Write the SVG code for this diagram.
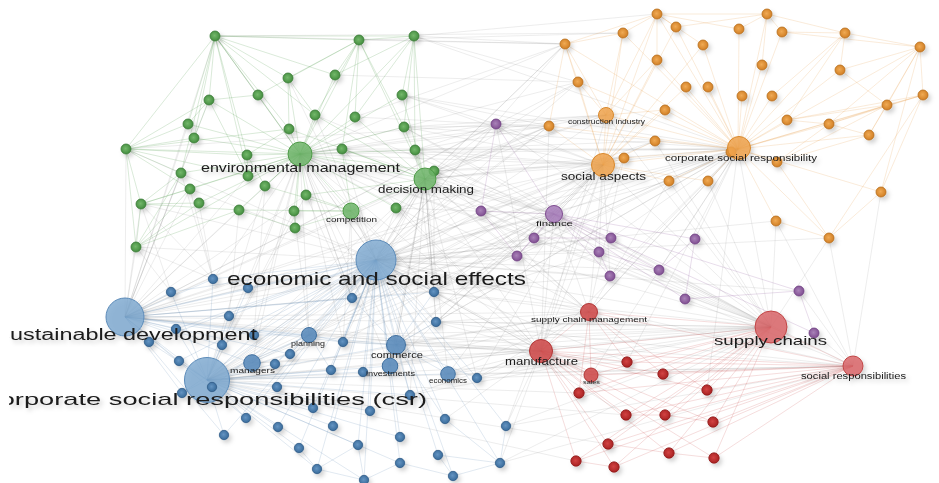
<svg xmlns="http://www.w3.org/2000/svg" width="939" height="483" viewBox="0 0 939 483">
<defs>
<style>
.e{fill:none;stroke-width:.7}
.eg{stroke:#7a7a7a;stroke-opacity:.2}
.eG{stroke:#4e9a48;stroke-opacity:.3}
.eO{stroke:#e08a2a;stroke-opacity:.25}
.eP{stroke:#8e5a9f;stroke-opacity:.3}
.eB{stroke:#4f7fb0;stroke-opacity:.25}
.eR{stroke:#c43a3a;stroke-opacity:.25}
.n{filter:url(#sh)}
.G{fill:url(#gG);stroke:#3a7a36;stroke-width:.8}
.O{fill:url(#gO);stroke:#b86d1c;stroke-width:.8}
.P{fill:url(#gP);stroke:#6d3d80;stroke-width:.8}
.B{fill:url(#gB);stroke:#2f5b86;stroke-width:.8}
.R{fill:url(#gR);stroke:#8f1a1a;stroke-width:.8}
.GB{fill:#6fb56a;fill-opacity:.85;stroke:#4e9a48;stroke-width:1}
.OB{fill:#eea24c;fill-opacity:.85;stroke:#d8882c;stroke-width:1}
.PB{fill:#a67bb8;fill-opacity:.85;stroke:#7d4a8f;stroke-width:1}
.BB{fill:#7ea8cf;fill-opacity:.82;stroke:#5b8ab8;stroke-width:1}
.BM{fill:#5d8dbd;fill-opacity:.9;stroke:#3f6f9f;stroke-width:1}
.RB{fill:#d9666a;fill-opacity:.85;stroke:#c04545;stroke-width:1}
.RM{fill:#cf4f4f;fill-opacity:.9;stroke:#b03535;stroke-width:1}
text{font-family:"Liberation Sans",Arial,sans-serif;fill:#1a1a1a}
</style>
<filter id="sh" x="-50%" y="-50%" width="200%" height="200%">
<feDropShadow dx="2.5" dy="3" stdDeviation="2.2" flood-color="#000" flood-opacity=".18"/>
</filter>
<radialGradient id="gG" cx=".45" cy=".45" r=".6"><stop offset="0" stop-color="#74b86b"/><stop offset="1" stop-color="#3f8a3b"/></radialGradient>
<radialGradient id="gO" cx=".45" cy=".45" r=".6"><stop offset="0" stop-color="#f0aa55"/><stop offset="1" stop-color="#cf7c20"/></radialGradient>
<radialGradient id="gP" cx=".45" cy=".45" r=".6"><stop offset="0" stop-color="#a982b8"/><stop offset="1" stop-color="#7d4a8f"/></radialGradient>
<radialGradient id="gB" cx=".45" cy=".45" r=".6"><stop offset="0" stop-color="#6494c2"/><stop offset="1" stop-color="#356797"/></radialGradient>
<radialGradient id="gR" cx=".45" cy=".45" r=".6"><stop offset="0" stop-color="#d24242"/><stop offset="1" stop-color="#a51f1f"/></radialGradient>
<clipPath id="cut"><rect x="9" y="0" width="930" height="483"/></clipPath>
</defs>
<rect width="939" height="483" fill="#fff"/>
<g id="connectors">
<path class="e eg" d="M376 260L215 36M376 260L288 78M376 260L300 154M376 260L425 179M376 260L315 115M376 260L342 149M376 260L434 171M376 260L565 44M376 260L578 82M376 260L549 126M376 260L603 165M376 260L738 149M376 260L655 141M376 260L669 181M376 260L496 124M376 260L481 211M376 260L554 214M376 260L534 238M376 260L611 238M376 260L517 256M376 260L599 252M376 260L610 276M376 260L659 270M376 260L799 291M376 260L589 312M376 260L541 351M376 260L771 327M376 260L853 366M376 260L627 362M376 260L591 375M376 260L626 415M376 260L136 247M376 260L141 204M376 260L126 149M376 260L190 189M376 260L351 211M376 260L396 208M376 260L829 238M376 260L776 221
M125 317L215 36M125 317L209 100M125 317L188 124M125 317L194 138M125 317L126 149M125 317L181 173M125 317L190 189M125 317L141 204M125 317L136 247M125 317L300 154M125 317L425 179M125 317L239 210M125 317L603 165M125 317L738 149M125 317L549 126M125 317L496 124M125 317L554 214M125 317L517 256M125 317L589 312M125 317L541 351M125 317L771 327M125 317L853 366M125 317L578 82M125 317L534 238M125 317L627 362M125 317L610 276M125 317L248 176M125 317L306 195M125 317L655 141
M207 380L300 154M207 380L425 179M207 380L306 195M207 380L294 211M207 380L603 165M207 380L738 149M207 380L549 126M207 380L554 214M207 380L481 211M207 380L517 256M207 380L589 312M207 380L541 351M207 380L771 327M207 380L853 366M207 380L579 393M207 380L626 415M207 380L576 461M207 380L606 115M207 380L599 252M207 380L608 444M207 380L627 362M207 380L265 186
M771 327L300 154M771 327L425 179M771 327L404 127M771 327L415 150M771 327L603 165M771 327L738 149M771 327L606 115M771 327L655 141M771 327L669 181M771 327L708 181M771 327L776 221M771 327L829 238M771 327L554 214M771 327L534 238M771 327L611 238M771 327L517 256M771 327L496 124M771 327L434 292M771 327L436 322M771 327L477 378M771 327L506 426M771 327L396 345M771 327L448 374M771 327L252 363M771 327L309 335M771 327L343 342M771 327L481 211M771 327L434 171M771 327L500 463M771 327L410 395M771 327L390 366
M541 351L300 154M541 351L425 179M541 351L603 165M541 351L738 149M541 351L496 124M541 351L554 214M541 351L396 345M541 351L434 292M541 351L436 322M541 351L448 374M541 351L477 378M541 351L506 426M541 351L500 463M541 351L445 419M541 351L410 395M541 351L396 208M541 351L549 126M541 351L606 115M541 351L624 158M541 351L309 335M541 351L252 363M541 351L343 342M541 351L342 149
M589 312L425 179M589 312L603 165M589 312L738 149M589 312L554 214M589 312L481 211M589 312L436 322M589 312L396 345M589 312L448 374M589 312L300 154M589 312L434 292M589 312L434 171M589 312L624 158M589 312L669 181M589 312L390 366M589 312L477 378
M300 154L603 165M300 154L738 149M300 154L606 115M300 154L549 126M300 154L578 82M300 154L565 44M300 154L496 124M300 154L554 214M300 154L481 211M300 154L534 238M300 154L434 292M300 154L352 298M300 154L436 322M300 154L396 345M300 154L309 335M300 154L252 363M300 154L254 335M300 154L213 279M300 154L517 256M300 154L655 141M300 154L343 342M300 154L390 366
M425 179L603 165M425 179L738 149M425 179L606 115M425 179L549 126M425 179L496 124M425 179L554 214M425 179L534 238M425 179L517 256M425 179L434 292M425 179L352 298M425 179L436 322M425 179L396 345M425 179L448 374M425 179L390 366M425 179L309 335M425 179L410 395M425 179L578 82M425 179L565 44M425 179L624 158M425 179L599 252M425 179L343 342M425 179L252 363M425 179L477 378
M603 165L496 124M603 165L481 211M603 165L554 214M603 165L534 238M603 165L517 256M603 165L599 252M603 165L610 276M603 165L434 292M603 165L436 322M603 165L396 345M603 165L448 374M603 165L477 378M603 165L506 426M603 165L434 171M603 165L404 127M603 165L415 150M603 165L402 95M603 165L342 149M603 165L396 208M603 165L390 366M603 165L309 335M603 165L352 298
M738 149L496 124M738 149L554 214M738 149L534 238M738 149L611 238M738 149L695 239M738 149L610 276M738 149L659 270M738 149L402 95M738 149L404 127M738 149L415 150M738 149L414 36M738 149L434 292M738 149L396 345M738 149L627 362M738 149L591 375M738 149L707 390M738 149L481 211M738 149L517 256M738 149L436 322M738 149L434 171M738 149L589 312M738 149L342 149
M554 214L315 115M554 214L404 127M554 214L342 149M554 214L434 171M554 214L434 292M554 214L352 298M554 214L436 322M554 214L396 345M554 214L343 342M554 214L309 335M554 214L396 208
M215 36L565 44M215 36L623 33M414 36L565 44M414 36L578 82M359 40L623 33M402 95L549 126M402 95L496 124M496 124L549 126M496 124L606 115M565 44L434 171M126 149L496 124M414 36L657 14M359 40L565 44M404 127L549 126M415 150L496 124M335 75L578 82M355 117L565 44M355 117L496 124M404 127L606 115M415 150L606 115M434 171L606 115M434 171L549 126
M853 366L506 426M853 366L477 378M853 366L799 291M853 366L814 333M853 366L829 238M853 366L776 221M853 366L881 192M853 366L500 463M853 366L436 322M853 366L448 374M853 366L685 299M853 366L659 270
M213 279L136 247M171 292L136 247M213 279L141 204M171 292L141 204M248 288L300 154M352 298L300 154M434 292L434 171M434 292L415 150M213 279L181 173M213 279L190 189M213 279L199 203M352 298L306 195M352 298L351 211M434 292L351 211M229 316L239 210M254 335L265 186M309 335L294 211M436 322L425 179M396 345L425 179M343 342L351 211"/>
<path class="e eG" d="M300 154L215 36M300 154L359 40M300 154L414 36M300 154L335 75M300 154L288 78M300 154L258 95M300 154L209 100M300 154L402 95M300 154L315 115M300 154L355 117M300 154L188 124M300 154L404 127M300 154L289 129M300 154L194 138M300 154L126 149M300 154L342 149M300 154L415 150M300 154L247 155M300 154L181 173M300 154L248 176M300 154L434 171M300 154L425 179M300 154L265 186M300 154L190 189M300 154L306 195M300 154L199 203M300 154L141 204M300 154L396 208M300 154L239 210M300 154L294 211M300 154L351 211M300 154L295 228M300 154L136 247
M215 36L288 78M215 36L258 95M215 36L209 100M215 36L188 124M215 36L194 138M215 36L126 149M215 36L289 129M215 36L359 40M215 36L414 36M215 36L247 155M215 36L248 176M215 36L335 75M215 36L315 115M215 36L181 173
M359 40L335 75M359 40L315 115M359 40L355 117M359 40L342 149M359 40L414 36M359 40L404 127M359 40L288 78M359 40L258 95
M414 36L402 95M414 36L404 127M414 36L355 117M414 36L415 150M414 36L335 75
M126 149L188 124M126 149L194 138M126 149L181 173M126 149L190 189M126 149L141 204M126 149L136 247M126 149L247 155M126 149L248 176M126 149L209 100M126 149L289 129
M141 204L199 203M141 204L190 189M141 204L239 210M141 204L136 247M141 204L181 173
M425 179L359 40M425 179L414 36M425 179L402 95M425 179L355 117M425 179L404 127M425 179L342 149M425 179L415 150M425 179L434 171M425 179L396 208M425 179L306 195M425 179L351 211M425 179L315 115M425 179L289 129
M351 211L265 186M351 211L306 195M351 211L294 211M351 211L295 228M351 211L342 149M351 211L239 210
M136 247L181 173M136 247L190 189M136 247L199 203M136 247L239 210M209 100L188 124M209 100L194 138M209 100L248 176M209 100L258 95M247 155L248 176M247 155L265 186M247 155L289 129M295 228L294 211M295 228L239 210M288 78L289 129M288 78L315 115"/>
<path class="e eO" d="M738 149L657 14M738 149L767 14M738 149L623 33M738 149L676 27M738 149L739 29M738 149L782 32M738 149L845 33M738 149L565 44M738 149L703 45M738 149L920 47M738 149L657 60M738 149L762 65M738 149L840 70M738 149L578 82M738 149L686 87M738 149L708 87M738 149L742 96M738 149L772 96M738 149L923 95M738 149L887 105M738 149L665 110M738 149L606 115M738 149L787 120M738 149L829 124M738 149L549 126M738 149L869 135M738 149L655 141M738 149L624 158M738 149L603 165M738 149L777 162M738 149L669 181M738 149L708 181M738 149L881 192M738 149L776 221M738 149L829 238
M603 165L565 44M603 165L578 82M603 165L606 115M603 165L549 126M603 165L655 141M603 165L624 158M603 165L669 181M603 165L708 181M603 165L665 110M603 165L686 87M603 165L657 60M603 165L623 33M603 165L676 27M603 165L657 14M603 165L703 45
M606 115L623 33M606 115L657 14M606 115L657 60M606 115L578 82M606 115L665 110M606 115L565 44
M920 47L845 33M920 47L840 70M920 47L923 95M920 47L887 105M920 47L829 124M920 47L869 135M920 47L881 192M920 47L782 32
M923 95L887 105M923 95L829 124M923 95L829 238M923 95L881 192M923 95L787 120M887 105L787 120M887 105L869 135M887 105L829 124M887 105L840 70
M767 14L782 32M767 14L845 33M767 14L739 29M767 14L657 14M767 14L762 65M767 14L676 27M657 14L676 27M657 14L623 33M657 14L739 29M657 14L703 45M657 14L657 60
M845 33L840 70M845 33L772 96M845 33L782 32M845 33L787 120M829 238L881 192M829 238L776 221M829 238L777 162M565 44L578 82M565 44L623 33M565 44L549 126M565 44L657 14M829 124L787 120M829 124L869 135M829 124L777 162M777 162L887 105M777 162L869 135"/>
<path class="e eP" d="M554 214L496 124M554 214L481 211M554 214L534 238M554 214L611 238M554 214L695 239M554 214L517 256M554 214L599 252M554 214L659 270M554 214L610 276M554 214L799 291M554 214L685 299M554 214L814 333M534 238L611 238M534 238L517 256M599 252L610 276M599 252L659 270M799 291L814 333M799 291L685 299M695 239L659 270M695 239L685 299M481 211L517 256M496 124L481 211"/>
<path class="e eB" d="M376 260L213 279M376 260L248 288M376 260L171 292M376 260L434 292M376 260L352 298M376 260L229 316M376 260L436 322M376 260L176 329M376 260L254 335M376 260L149 342M376 260L343 342M376 260L222 345M376 260L290 354M376 260L179 361M376 260L275 364M376 260L331 370M376 260L363 372M376 260L477 378M376 260L212 387M376 260L277 387M376 260L182 393M376 260L410 395M376 260L313 408M376 260L370 411M376 260L246 418M376 260L445 419M376 260L506 426M376 260L333 426M376 260L278 427M376 260L224 435M376 260L400 437M376 260L358 445M376 260L299 448M376 260L438 455M376 260L400 463M376 260L500 463M376 260L317 469M376 260L453 476M376 260L364 480M376 260L125 317M376 260L207 380M376 260L309 335M376 260L396 345M376 260L252 363M376 260L390 366M376 260L448 374
M125 317L213 279M125 317L248 288M125 317L171 292M125 317L229 316M125 317L176 329M125 317L254 335M125 317L149 342M125 317L222 345M125 317L179 361M125 317L182 393M125 317L207 380M125 317L252 363M125 317L309 335M125 317L290 354M125 317L246 418M125 317L224 435M125 317L352 298M125 317L434 292M125 317L396 345M125 317L343 342
M207 380L213 279M207 380L248 288M207 380L171 292M207 380L229 316M207 380L176 329M207 380L254 335M207 380L149 342M207 380L222 345M207 380L179 361M207 380L277 387M207 380L182 393M207 380L313 408M207 380L246 418M207 380L333 426M207 380L278 427M207 380L224 435M207 380L299 448M207 380L317 469M207 380L364 480M207 380L252 363M207 380L309 335M207 380L396 345M207 380L390 366M207 380L448 374M207 380L410 395M207 380L370 411M207 380L400 437M207 380L358 445M207 380L400 463M207 380L275 364M207 380L290 354M207 380L331 370M207 380L363 372
M396 345L436 322M396 345L434 292M396 345L390 366M396 345L448 374M396 345L343 342M396 345L410 395M396 345L445 419M396 345L352 298M396 345L477 378M309 335L290 354M309 335L343 342M309 335L252 363M309 335L254 335M309 335L275 364M309 335L331 370
M317 469L299 448M317 469L364 480M317 469L358 445M453 476L438 455M453 476L500 463M453 476L400 463M500 463L506 426M500 463L438 455M500 463L445 419M364 480L400 463M364 480L358 445"/>
<path class="e eR" d="M771 327L589 312M771 327L541 351M771 327L853 366M771 327L627 362M771 327L663 374M771 327L591 375M771 327L579 393M771 327L707 390M771 327L626 415M771 327L665 415M771 327L713 422M771 327L608 444M771 327L669 453M771 327L714 458M771 327L576 461M771 327L614 467
M541 351L589 312M541 351L627 362M541 351L663 374M541 351L591 375M541 351L579 393M541 351L707 390M541 351L626 415M541 351L665 415M541 351L713 422M541 351L608 444M541 351L669 453M541 351L714 458M541 351L576 461M541 351L614 467M541 351L853 366
M853 366L589 312M853 366L627 362M853 366L663 374M853 366L591 375M853 366L579 393M853 366L707 390M853 366L626 415M853 366L665 415M853 366L713 422M853 366L608 444M853 366L669 453M853 366L714 458M853 366L576 461M853 366L614 467
M589 312L627 362M589 312L663 374M589 312L591 375M589 312L579 393M589 312L707 390M576 461L614 467M608 444L669 453M669 453L714 458M626 415L665 415M665 415L713 422"/>
</g>
<g id="nodes" class="n">
<g id="g1"><circle class="G" cx="215" cy="36" r="5"/></g>
<g id="g2"><circle class="G" cx="359" cy="40" r="5"/></g>
<g id="g3"><circle class="G" cx="414" cy="36" r="5"/></g>
<g id="g4"><circle class="G" cx="335" cy="75" r="5"/></g>
<g id="g5"><circle class="G" cx="288" cy="78" r="5"/></g>
<g id="g6"><circle class="G" cx="258" cy="95" r="5"/></g>
<g id="g7"><circle class="G" cx="209" cy="100" r="5"/></g>
<g id="g8"><circle class="G" cx="402" cy="95" r="5"/></g>
<g id="g9"><circle class="G" cx="315" cy="115" r="5"/></g>
<g id="g10"><circle class="G" cx="355" cy="117" r="5"/></g>
<g id="g11"><circle class="G" cx="188" cy="124" r="5"/></g>
<g id="g12"><circle class="G" cx="404" cy="127" r="5"/></g>
<g id="g13"><circle class="G" cx="289" cy="129" r="5"/></g>
<g id="g14"><circle class="G" cx="194" cy="138" r="5"/></g>
<g id="g15"><circle class="G" cx="126" cy="149" r="5"/></g>
<g id="g16"><circle class="G" cx="342" cy="149" r="5"/></g>
<g id="g17"><circle class="G" cx="415" cy="150" r="5"/></g>
<g id="g18"><circle class="G" cx="247" cy="155" r="5"/></g>
<g id="g19"><circle class="G" cx="181" cy="173" r="5"/></g>
<g id="g20"><circle class="G" cx="248" cy="176" r="5"/></g>
<g id="g21"><circle class="G" cx="434" cy="171" r="5"/></g>
<g id="g22"><circle class="G" cx="265" cy="186" r="5"/></g>
<g id="g23"><circle class="G" cx="190" cy="189" r="5"/></g>
<g id="g24"><circle class="G" cx="306" cy="195" r="5"/></g>
<g id="g25"><circle class="G" cx="199" cy="203" r="5"/></g>
<g id="g26"><circle class="G" cx="141" cy="204" r="5"/></g>
<g id="g27"><circle class="G" cx="396" cy="208" r="5"/></g>
<g id="g28"><circle class="G" cx="239" cy="210" r="5"/></g>
<g id="g29"><circle class="G" cx="294" cy="211" r="5"/></g>
<g id="g30"><circle class="G" cx="295" cy="228" r="5"/></g>
<g id="g31"><circle class="G" cx="136" cy="247" r="5"/></g>
<g id="o1"><circle class="O" cx="657" cy="14" r="5"/></g>
<g id="o2"><circle class="O" cx="767" cy="14" r="5"/></g>
<g id="o3"><circle class="O" cx="623" cy="33" r="5"/></g>
<g id="o4"><circle class="O" cx="676" cy="27" r="5"/></g>
<g id="o5"><circle class="O" cx="739" cy="29" r="5"/></g>
<g id="o6"><circle class="O" cx="782" cy="32" r="5"/></g>
<g id="o7"><circle class="O" cx="845" cy="33" r="5"/></g>
<g id="o8"><circle class="O" cx="565" cy="44" r="5"/></g>
<g id="o9"><circle class="O" cx="703" cy="45" r="5"/></g>
<g id="o10"><circle class="O" cx="920" cy="47" r="5"/></g>
<g id="o11"><circle class="O" cx="657" cy="60" r="5"/></g>
<g id="o12"><circle class="O" cx="762" cy="65" r="5"/></g>
<g id="o13"><circle class="O" cx="840" cy="70" r="5"/></g>
<g id="o14"><circle class="O" cx="578" cy="82" r="5"/></g>
<g id="o15"><circle class="O" cx="686" cy="87" r="5"/></g>
<g id="o16"><circle class="O" cx="708" cy="87" r="5"/></g>
<g id="o17"><circle class="O" cx="742" cy="96" r="5"/></g>
<g id="o18"><circle class="O" cx="772" cy="96" r="5"/></g>
<g id="o19"><circle class="O" cx="923" cy="95" r="5"/></g>
<g id="o20"><circle class="O" cx="887" cy="105" r="5"/></g>
<g id="o21"><circle class="O" cx="665" cy="110" r="5"/></g>
<g id="o22"><circle class="O" cx="787" cy="120" r="5"/></g>
<g id="o23"><circle class="O" cx="829" cy="124" r="5"/></g>
<g id="o24"><circle class="O" cx="549" cy="126" r="5"/></g>
<g id="o25"><circle class="O" cx="869" cy="135" r="5"/></g>
<g id="o26"><circle class="O" cx="655" cy="141" r="5"/></g>
<g id="o27"><circle class="O" cx="731" cy="152" r="5"/></g>
<g id="o28"><circle class="O" cx="624" cy="158" r="5"/></g>
<g id="o29"><circle class="O" cx="777" cy="162" r="5"/></g>
<g id="o30"><circle class="O" cx="669" cy="181" r="5"/></g>
<g id="o31"><circle class="O" cx="708" cy="181" r="5"/></g>
<g id="o32"><circle class="O" cx="881" cy="192" r="5"/></g>
<g id="o33"><circle class="O" cx="776" cy="221" r="5"/></g>
<g id="o34"><circle class="O" cx="829" cy="238" r="5"/></g>
<g id="p1"><circle class="P" cx="496" cy="124" r="5"/></g>
<g id="p2"><circle class="P" cx="481" cy="211" r="5"/></g>
<g id="p3"><circle class="P" cx="534" cy="238" r="5"/></g>
<g id="p4"><circle class="P" cx="611" cy="238" r="5"/></g>
<g id="p5"><circle class="P" cx="695" cy="239" r="5"/></g>
<g id="p6"><circle class="P" cx="517" cy="256" r="5"/></g>
<g id="p7"><circle class="P" cx="599" cy="252" r="5"/></g>
<g id="p8"><circle class="P" cx="659" cy="270" r="5"/></g>
<g id="p9"><circle class="P" cx="610" cy="276" r="5"/></g>
<g id="p10"><circle class="P" cx="799" cy="291" r="5"/></g>
<g id="p11"><circle class="P" cx="685" cy="299" r="5"/></g>
<g id="p12"><circle class="P" cx="814" cy="333" r="5"/></g>
<g id="b1"><circle class="B" cx="213" cy="279" r="4.7"/></g>
<g id="b2"><circle class="B" cx="248" cy="288" r="4.7"/></g>
<g id="b3"><circle class="B" cx="171" cy="292" r="4.7"/></g>
<g id="b4"><circle class="B" cx="434" cy="292" r="4.7"/></g>
<g id="b5"><circle class="B" cx="352" cy="298" r="4.7"/></g>
<g id="b6"><circle class="B" cx="229" cy="316" r="4.7"/></g>
<g id="b7"><circle class="B" cx="436" cy="322" r="4.7"/></g>
<g id="b8"><circle class="B" cx="176" cy="329" r="4.7"/></g>
<g id="b9"><circle class="B" cx="254" cy="335" r="4.7"/></g>
<g id="b10"><circle class="B" cx="149" cy="342" r="4.7"/></g>
<g id="b11"><circle class="B" cx="343" cy="342" r="4.7"/></g>
<g id="b12"><circle class="B" cx="222" cy="345" r="4.7"/></g>
<g id="b13"><circle class="B" cx="290" cy="354" r="4.7"/></g>
<g id="b14"><circle class="B" cx="179" cy="361" r="4.7"/></g>
<g id="b15"><circle class="B" cx="275" cy="364" r="4.7"/></g>
<g id="b16"><circle class="B" cx="331" cy="370" r="4.7"/></g>
<g id="b17"><circle class="B" cx="363" cy="372" r="4.7"/></g>
<g id="b18"><circle class="B" cx="477" cy="378" r="4.7"/></g>
<g id="b20"><circle class="B" cx="277" cy="387" r="4.7"/></g>
<g id="b21"><circle class="B" cx="182" cy="393" r="4.7"/></g>
<g id="b22"><circle class="B" cx="410" cy="395" r="4.7"/></g>
<g id="b23"><circle class="B" cx="313" cy="408" r="4.7"/></g>
<g id="b24"><circle class="B" cx="370" cy="411" r="4.7"/></g>
<g id="b25"><circle class="B" cx="246" cy="418" r="4.7"/></g>
<g id="b26"><circle class="B" cx="445" cy="419" r="4.7"/></g>
<g id="b27"><circle class="B" cx="506" cy="426" r="4.7"/></g>
<g id="b28"><circle class="B" cx="333" cy="426" r="4.7"/></g>
<g id="b29"><circle class="B" cx="278" cy="427" r="4.7"/></g>
<g id="b30"><circle class="B" cx="224" cy="435" r="4.7"/></g>
<g id="b31"><circle class="B" cx="400" cy="437" r="4.7"/></g>
<g id="b32"><circle class="B" cx="358" cy="445" r="4.7"/></g>
<g id="b33"><circle class="B" cx="299" cy="448" r="4.7"/></g>
<g id="b34"><circle class="B" cx="438" cy="455" r="4.7"/></g>
<g id="b35"><circle class="B" cx="400" cy="463" r="4.7"/></g>
<g id="b36"><circle class="B" cx="500" cy="463" r="4.7"/></g>
<g id="b37"><circle class="B" cx="317" cy="469" r="4.7"/></g>
<g id="b39"><circle class="B" cx="453" cy="476" r="4.7"/></g>
<g id="b40"><circle class="B" cx="364" cy="480" r="4.7"/></g>
<g id="r1"><circle class="R" cx="627" cy="362" r="5.2"/></g>
<g id="r2"><circle class="R" cx="663" cy="374" r="5.2"/></g>
<g id="r3"><circle class="R" cx="579" cy="393" r="5.2"/></g>
<g id="r4"><circle class="R" cx="707" cy="390" r="5.2"/></g>
<g id="r5"><circle class="R" cx="626" cy="415" r="5.2"/></g>
<g id="r6"><circle class="R" cx="665" cy="415" r="5.2"/></g>
<g id="r7"><circle class="R" cx="713" cy="422" r="5.2"/></g>
<g id="r8"><circle class="R" cx="608" cy="444" r="5.2"/></g>
<g id="r9"><circle class="R" cx="669" cy="453" r="5.2"/></g>
<g id="r10"><circle class="R" cx="714" cy="458" r="5.2"/></g>
<g id="r11"><circle class="R" cx="576" cy="461" r="5.2"/></g>
<g id="r12"><circle class="R" cx="614" cy="467" r="5.2"/></g>
<g id="environmental-management"><circle class="GB" cx="300" cy="154" r="12"/><text x="201" y="172" font-size="13" textLength="199" lengthAdjust="spacingAndGlyphs">environmental management</text></g>
<g id="decision-making"><circle class="GB" cx="425" cy="179" r="11"/><text x="378" y="192.5" font-size="11" textLength="96" lengthAdjust="spacingAndGlyphs">decision making</text></g>
<g id="competition"><circle class="GB" cx="351" cy="211" r="8"/><text x="326" y="222" font-size="7.5" textLength="51" lengthAdjust="spacingAndGlyphs">competition</text></g>
<g id="finance"><circle class="PB" cx="554" cy="214" r="8.5"/><text x="536" y="225.5" font-size="8" textLength="37" lengthAdjust="spacingAndGlyphs">finance</text></g>
<g id="construction-industry"><circle class="OB" cx="606" cy="115" r="7.5"/><text x="568" y="124" font-size="6.5" textLength="77" lengthAdjust="spacingAndGlyphs">construction industry</text></g>
<g id="social-aspects"><circle class="OB" cx="603" cy="165" r="11.5"/><text x="561" y="180" font-size="11.5" textLength="85" lengthAdjust="spacingAndGlyphs">social aspects</text></g>
<g id="corporate-social-responsibility"><circle class="OB" cx="739" cy="148" r="11.5"/><text x="665" y="161" font-size="9" textLength="152" lengthAdjust="spacingAndGlyphs">corporate social responsibility</text></g>
<g id="planning"><circle class="BM" cx="309" cy="335" r="7.5"/><text x="291" y="345.5" font-size="6.5" textLength="34" lengthAdjust="spacingAndGlyphs">planning</text></g>
<g id="managers"><circle class="BM" cx="252" cy="363" r="8.3"/><text x="230" y="373" font-size="7" textLength="45" lengthAdjust="spacingAndGlyphs">managers</text></g>
<g id="commerce"><circle class="BM" cx="396" cy="345" r="9.5"/><text x="371" y="357.5" font-size="8.5" textLength="52" lengthAdjust="spacingAndGlyphs">commerce</text></g>
<g id="investments"><circle class="BM" cx="390" cy="366" r="7.8"/><text x="366" y="376" font-size="7" textLength="49" lengthAdjust="spacingAndGlyphs">investments</text></g>
<g id="economics"><circle class="BM" cx="448" cy="374" r="7.3"/><text x="429" y="382.5" font-size="6.5" textLength="38" lengthAdjust="spacingAndGlyphs">economics</text></g>
<g id="economic-and-social-effects"><circle class="BB" cx="376" cy="260" r="20"/><text x="227" y="284.5" font-size="19" textLength="299" lengthAdjust="spacingAndGlyphs">economic and social effects</text></g>
<g id="sustainable-development"><circle class="BB" cx="125" cy="317" r="19"/><text x="-1.7" y="339.5" font-size="16" textLength="258.7" lengthAdjust="spacingAndGlyphs" clip-path="url(#cut)">sustainable development</text></g>
<g id="csr"><circle class="BB" cx="207" cy="380" r="22.5"/><circle class="B" cx="212" cy="387" r="4.7"/><text x="-14" y="405" font-size="17" textLength="441" lengthAdjust="spacingAndGlyphs" clip-path="url(#cut)">corporate social responsibilities (csr)</text></g>
<g id="supply-chain-management"><circle class="RM" cx="589" cy="312" r="8.5"/><text x="531" y="321.5" font-size="8" textLength="116" lengthAdjust="spacingAndGlyphs">supply chain management</text></g>
<g id="manufacture"><circle class="RM" cx="541" cy="351" r="11.5"/><text x="505" y="364.5" font-size="10.5" textLength="73" lengthAdjust="spacingAndGlyphs">manufacture</text></g>
<g id="sales"><circle class="RM" cx="591" cy="375" r="7"/><text x="583" y="383.5" font-size="6" textLength="17" lengthAdjust="spacingAndGlyphs">sales</text></g>
<g id="supply-chains"><circle class="RB" cx="771" cy="327" r="16"/><text x="714" y="345" font-size="13" textLength="113" lengthAdjust="spacingAndGlyphs">supply chains</text></g>
<g id="social-responsibilities"><circle class="RB" cx="853" cy="366" r="10"/><text x="801" y="378.5" font-size="8.5" textLength="105" lengthAdjust="spacingAndGlyphs">social responsibilities</text></g>
</g>
</svg>
